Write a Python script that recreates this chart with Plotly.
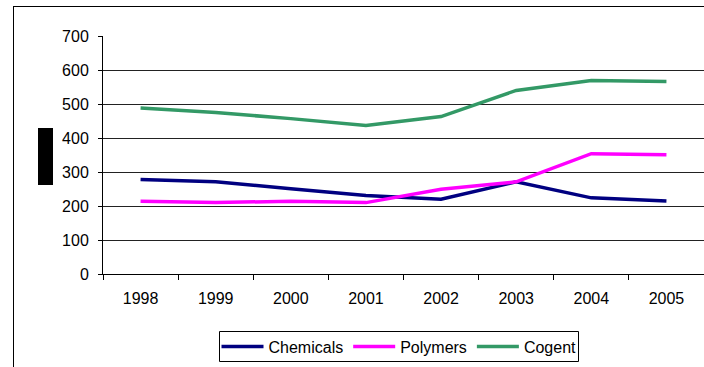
import plotly.graph_objects as go

years = ["1998", "1999", "2000", "2001", "2002", "2003", "2004", "2005"]
chemicals = [278, 271, 251, 231, 220, 271, 224, 215]
polymers = [214, 210, 214, 210, 249, 271, 354, 351]
cogent = [488, 475, 457, 437, 463, 540, 569, 566]

series = [("Chemicals", chemicals, "#000080"),
          ("Polymers", polymers, "#FF00FF"),
          ("Cogent", cogent, "#339966")]

fig = go.Figure()
for name, vals, col in series:
    fig.add_trace(go.Scatter(x=years, y=vals, name=name, mode="lines",
                             line=dict(color=col, width=3.5)))

L, R, T, B = 103, 0, 36, 93
W, H = 704, 367
pw, ph = W - L - R, H - T - B

def px(x):
    return (x - L) / pw

def py(y):
    return (H - B - y) / ph

def seg(x0, y0, x1, y1):
    return dict(type="line", xref="paper", yref="paper", x0=px(x0), x1=px(x1),
                y0=py(y0), y1=py(y1), line=dict(color="black", width=1))

fig.update_layout(
    width=W, height=H,
    margin=dict(l=L, r=R, t=T, b=B),
    paper_bgcolor="white", plot_bgcolor="white",
    font=dict(family="Liberation Sans, Arial, sans-serif", size=16, color="black"),
    showlegend=True,
    legend=dict(orientation="h", x=px(399), xanchor="center", y=py(346.5), yanchor="middle",
                bgcolor="rgba(0,0,0,0)", borderwidth=0, font=dict(size=16),
                itemwidth=42, tracegroupgap=0),
    xaxis=dict(type="category", showline=True, linecolor="black", linewidth=1,
               ticks="outside", ticklen=5, tickcolor="black", tickson="boundaries",
               showgrid=False, ticklabelstandoff=10, range=[-0.5, 7.5]),
    yaxis=dict(range=[0, 700], dtick=100, showline=True, linecolor="black", linewidth=1,
               ticks="outside", ticklen=4, tickcolor="black", ticklabelstandoff=6,
               showgrid=True, gridcolor="#222222", gridwidth=1, zeroline=False),
    shapes=[
        seg(13, 6.5, 710, 6.5),
        seg(13.5, 6, 13.5, 370),
        dict(type="rect", xref="paper", yref="paper", x0=px(38), x1=px(53),
             y0=py(185), y1=py(128), fillcolor="black", line=dict(width=0)),
        seg(219.5, 331.5, 578.5, 331.5),
        seg(219.5, 361.5, 578.5, 361.5),
        seg(219.5, 331.5, 219.5, 361.5),
        seg(578.5, 331.5, 578.5, 361.5),
    ],
)

fig.write_html("out.html")
